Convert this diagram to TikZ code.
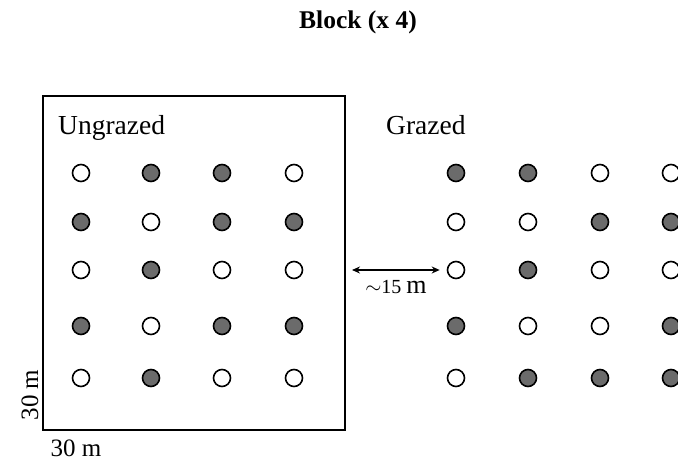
\documentclass[tikz,border=0pt]{standalone}
\usepackage{fontspec}
\setmainfont{Liberation Serif}
\usetikzlibrary{arrows.meta}
\begin{document}
\begin{tikzpicture}[x=1pt,y=-1pt,
  plot/.style={circle,draw=black,line width=1.6pt,minimum size=17pt,inner sep=0pt},
  open/.style={plot,fill=white},
  full/.style={plot,fill=black!58},
  lbl/.style={inner sep=0pt,font=\fontsize{27.5}{30}\selectfont},
  dimlbl/.style={inner sep=0pt,font=\fontsize{25}{28}\selectfont},
  plotbox/.style={draw=black,line width=1.8pt}]
\useasboundingbox (0,0) rectangle (678,462);
\begin{scope}
\clip (0,0) rectangle (678,462);
\node[font=\bfseries\fontsize{25.5}{28}\selectfont] (title) at (358,22) {Block (x 4)};
\draw[plotbox] (43,96) rectangle (345,430);
\coordinate (boxE) at (345,270);
\node[lbl,anchor=west] (ung) at (58,128) {Ungrazed};
\node[lbl,anchor=west] (gra) at (386,125) {Grazed};
% left grid
\foreach \row/\y/\pat in {1/173/{o,f,f,o},2/222/{f,o,f,f},3/270/{o,f,o,o},4/326/{f,o,f,f},5/378/{o,f,o,o}}{
  \foreach \t [count=\c] in \pat {
    \pgfmathsetmacro{\xx}{{81,151,222,294}[\c-1]}
    \if f\t\node[full] (l\row\c) at (\xx,\y) {};\else\node[open] (l\row\c) at (\xx,\y) {};\fi
  }
}
% right grid
\foreach \row/\y/\pat in {1/173/{f,f,o,o},2/222/{o,o,f,f},3/270/{o,f,o,o},4/326/{f,o,o,f},5/378/{o,f,f,f}}{
  \foreach \t [count=\c] in \pat {
    \pgfmathsetmacro{\xx}{{456,528,600,671}[\c-1]}
    \if f\t\node[full] (g\row\c) at (\xx,\y) {};\else\node[open] (g\row\c) at (\xx,\y) {};\fi
  }
}
\coordinate (aL) at ([xshift=7pt]boxE);
\coordinate (aR) at ([xshift=-7pt]g31.west);
\draw[{Stealth[length=8pt,width=7pt]}-{Stealth[length=8pt,width=7pt]},line width=1.2pt] (aL) -- (aR);
\node[inner sep=0pt] (dist) at (396,287) {\fontsize{20}{22}\selectfont$\sim$15 \fontsize{26}{28}\selectfont m};
\node[dimlbl,rotate=90] (side) at (30,395) {30 m};
\node[dimlbl] (bottom) at (76,448) {30 m};
\end{scope}
\end{tikzpicture}
\end{document}
